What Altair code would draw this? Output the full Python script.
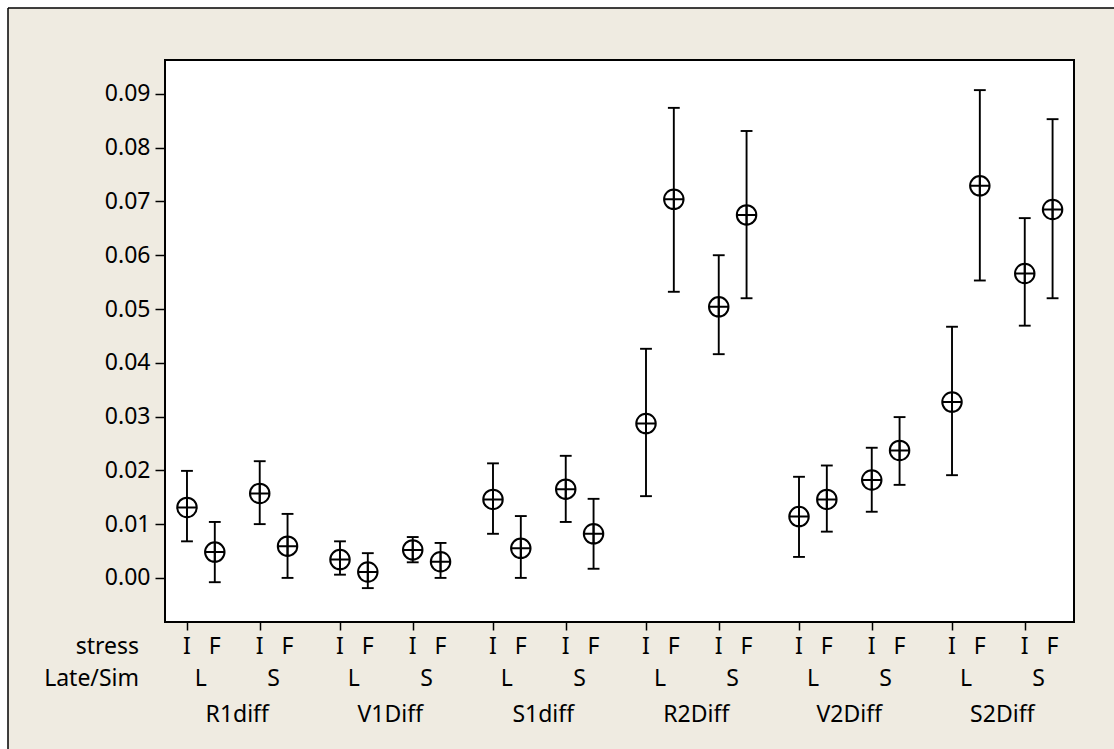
import altair as alt
import pandas as pd

# ---- data ----
groups = ["R1diff", "V1Diff", "S1diff", "R2Diff", "V2Diff", "S2Diff"]
late_sim = ["L", "S"]
stress = ["I", "F"]

# order: for each group -> L(I, F), S(I, F)
means = [0.0131, 0.0048, 0.0157, 0.0059,
         0.0034, 0.0011, 0.0052, 0.0030,
         0.0146, 0.0055, 0.0165, 0.0082,
         0.0287, 0.0704, 0.0504, 0.0675,
         0.0114, 0.0146, 0.0182, 0.0237,
         0.0327, 0.0729, 0.0566, 0.0685]
lower = [0.0068, -0.0008, 0.0100, 0.0000,
         0.0006, -0.0019, 0.0029, 0.0000,
         0.0082, 0.0000, 0.0104, 0.0017,
         0.0152, 0.0532, 0.0416, 0.0520,
         0.0039, 0.0086, 0.0123, 0.0173,
         0.0191, 0.0553, 0.0469, 0.0520]
upper = [0.0199, 0.0104, 0.0217, 0.0119,
         0.0068, 0.0046, 0.0076, 0.0065,
         0.0213, 0.0115, 0.0227, 0.0147,
         0.0426, 0.0874, 0.0600, 0.0831,
         0.0188, 0.0209, 0.0242, 0.0299,
         0.0467, 0.0907, 0.0669, 0.0853]
y_ticks = [0.00, 0.01, 0.02, 0.03, 0.04, 0.05, 0.06, 0.07, 0.08, 0.09]

# ---- layout of the nested categorical axis ----
GROUP_STEP = 5.5
SIM_STEP = 2.615
STRESS_STEP = 1.0

rows = []
k = 0
for gi, g in enumerate(groups):
    for si, s in enumerate(late_sim):
        for ti, t in enumerate(stress):
            rows.append(dict(group=g, sim=s, stress=t,
                             pos=gi * GROUP_STEP + si * SIM_STEP + ti * STRESS_STEP,
                             mean=means[k], lo=lower[k], hi=upper[k]))
            k += 1
df = pd.DataFrame(rows)

sim_df = df.groupby(["group", "sim"], sort=False)["pos"].mean().reset_index()
grp_df = df.groupby(["group"], sort=False)["pos"].mean().reset_index()
row_names = pd.DataFrame({"name": ["stress", "Late/Sim"], "yy": [594, 626]})

FONT = "Noto Sans"
FS = 23
BEIGE = "#EFEBE1"

x_last = df["pos"].max()
xscale = alt.Scale(domain=[-0.79, x_last + 0.77], nice=False, zero=False)
yscale = alt.Scale(domain=[-0.0082, 0.0963], nice=False, zero=False)

base = alt.Chart(df)

x_enc = alt.X("pos:Q", scale=xscale,
              axis=alt.Axis(values=list(df["pos"]), labels=False, title=None,
                            domain=False, grid=False, tickSize=8, tickWidth=1.5,
                            tickColor="black", zindex=1))
y_axis = alt.Axis(values=y_ticks, format=".2f", title=None, domain=False, grid=False,
                  tickSize=10, tickWidth=1.5, tickColor="black", labelFont=FONT,
                  labelFontSize=FS, labelColor="black", labelPadding=5, zindex=1)

bars = base.mark_rule(color="black", strokeWidth=1.9).encode(
    x=x_enc,
    y=alt.Y("lo:Q", scale=yscale, axis=y_axis),
    y2="hi:Q",
)
cap_shape = "M-1,0L1,0"
cap_lo = base.mark_point(shape=cap_shape, size=140, filled=False, color="black",
                         strokeWidth=1.9, opacity=1).encode(
    x=alt.X("pos:Q", scale=xscale), y=alt.Y("lo:Q", scale=yscale))
cap_hi = base.mark_point(shape=cap_shape, size=140, filled=False, color="black",
                         strokeWidth=1.9, opacity=1).encode(
    x=alt.X("pos:Q", scale=xscale), y=alt.Y("hi:Q", scale=yscale))

circ_shape = "M-1,0A1,1,0,1,1,1,0A1,1,0,1,1,-1,0ZM-1,0L1,0M0,-1L0,1"
marks = base.mark_point(shape=circ_shape, size=380, filled=False, color="black",
                        strokeWidth=2, opacity=1).encode(
    x=alt.X("pos:Q", scale=xscale), y=alt.Y("mean:Q", scale=yscale))

txt_kw = dict(font=FONT, fontSize=FS, color="black", baseline="alphabetic")
stress_txt = base.mark_text(**txt_kw).encode(
    x=alt.X("pos:Q", scale=xscale), y=alt.value(594), text="stress:N")
sim_txt = alt.Chart(sim_df).mark_text(**txt_kw).encode(
    x=alt.X("pos:Q", scale=xscale), y=alt.value(626), text="sim:N")
grp_txt = alt.Chart(grp_df).mark_text(**txt_kw).encode(
    x=alt.X("pos:Q", scale=xscale), y=alt.value(662), text="group:N")
row_txt = alt.Chart(row_names).mark_text(align="right", **txt_kw).encode(
    x=alt.value(-26), y=alt.Y("yy:Q", scale=None), text="name:N")

# white margin + frame lines at top and left of the beige panel
one = alt.Chart(pd.DataFrame({"a": [0]}))
top_strip = one.mark_rect(color="white").encode(
    x=alt.value(-165), x2=alt.value(949), y=alt.value(-60), y2=alt.value(-52))
left_strip = one.mark_rect(color="white").encode(
    x=alt.value(-165), x2=alt.value(-157), y=alt.value(-60), y2=alt.value(689))
top_line = one.mark_rule(color="black", strokeWidth=1.5).encode(
    x=alt.value(-157), x2=alt.value(949), y=alt.value(-52))
left_line = one.mark_rule(color="black", strokeWidth=1.5).encode(
    x=alt.value(-157), y=alt.value(-52), y2=alt.value(689))

chart = alt.layer(
    top_strip, left_strip, top_line, left_line,
    bars, cap_lo, cap_hi, marks, stress_txt, sim_txt, grp_txt, row_txt
).properties(
    width=909, height=562,
    autosize=alt.AutoSizeParams(type="none"),
    padding={"left": 165, "top": 60, "right": 40, "bottom": 127},
    background=BEIGE,
).configure_view(
    fill="white", stroke="black", strokeWidth=2
)

chart.save("out.html", embed_options={"renderer": "svg", "actions": False})
